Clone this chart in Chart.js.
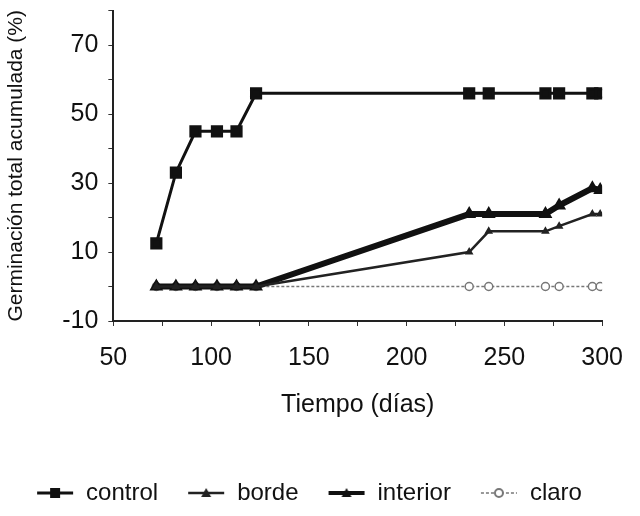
<!DOCTYPE html>
<html>
<head>
<meta charset="utf-8">
<script src="https://cdn.jsdelivr.net/npm/chart.js@4/dist/chart.umd.min.js"></script>
<style>
  html, body { margin: 0; padding: 0; background: #fff; }
</style>
</head>
<body>
<canvas id="chart" width="640" height="516"></canvas>
<script>
// days after sowing, shared by all four series
const days = [72, 82, 92, 103, 113, 123, 232, 242, 271, 278, 295, 299];
const control = [12.5, 33, 45, 45, 45, 56, 56, 56, 56, 56, 56, 56];
const borde = [0, 0, 0, 0, 0, 0, 10, 16, 16, 17.5, 21, 21];
const interior = [0, 0, 0, 0, 0, 0, 21, 21, 21, 23.5, 28.5, 28];
const claro = [0, 0, 0, 0, 0, 0, 0, 0, 0, 0, 0, 0];

const xLabels = [50, 100, 150, 200, 250, 300];
const yLabels = [-10, 10, 30, 50, 70];

const FONT = "'Liberation Sans', Arial, sans-serif";

const toPoints = (vals) => days.map((d, i) => ({ x: d, y: vals[i] }));

// little line + marker images for the legend
const makeSymbol = (color, lineWidth, marker, dash) => {
	const c = document.createElement("canvas");
	c.width = 38;
	c.height = 16;
	const ctx = c.getContext("2d");
	ctx.strokeStyle = color;
	ctx.fillStyle = color;
	ctx.lineWidth = lineWidth;
	if (dash) ctx.setLineDash(dash);
	ctx.beginPath();
	ctx.moveTo(1, 8);
	ctx.lineTo(37, 8);
	ctx.stroke();
	ctx.setLineDash([]);
	ctx.beginPath();
	if (marker === "rect") {
		ctx.fillRect(14, 3, 10, 10);
	} else if (marker === "triangle") {
		ctx.moveTo(19, 3);
		ctx.lineTo(24, 12);
		ctx.lineTo(14, 12);
		ctx.closePath();
		ctx.fill();
	} else {
		ctx.fillStyle = "#fff";
		ctx.lineWidth = 2;
		ctx.arc(19, 8, 4, 0, Math.PI * 2);
		ctx.fill();
		ctx.stroke();
	}
	return c;
};

const datasets = [
	{
		label: "control",
		data: toPoints(control),
		borderColor: "#111",
		backgroundColor: "#111",
		borderWidth: 3,
		pointStyle: "rect",
		pointRadius: 6.5,
		legendSymbol: makeSymbol("#111", 3, "rect"),
	},
	{
		label: "borde",
		data: toPoints(borde),
		borderColor: "#222",
		backgroundColor: "#222",
		borderWidth: 2.5,
		pointStyle: "triangle",
		pointRadius: 2.5,
		legendSymbol: makeSymbol("#222", 2.5, "triangle"),
	},
	{
		label: "interior",
		data: toPoints(interior),
		borderColor: "#111",
		backgroundColor: "#111",
		borderWidth: 6,
		pointStyle: "triangle",
		pointRadius: 2,
		legendSymbol: makeSymbol("#111", 4, "triangle"),
	},
	{
		label: "claro",
		data: toPoints(claro),
		borderColor: "#777",
		backgroundColor: "#fff",
		borderWidth: 1.5,
		borderDash: [3, 2],
		pointStyle: "circle",
		pointRadius: 4,
		pointBorderWidth: 1.5,
		legendSymbol: makeSymbol("#777", 1.5, "circle", [3, 2]),
	},
];

new Chart(document.getElementById("chart"), {
	type: "line",
	data: { datasets: datasets },
	options: {
		responsive: false,
		animation: false,
		layout: { padding: { left: 4, right: 26, top: 8, bottom: 6 } },
		plugins: {
			tooltip: { enabled: false },
			legend: {
				position: "bottom",
				maxHeight: 58,
				labels: {
					color: "#111",
					font: { family: FONT, size: 24 },
					usePointStyle: true,
					pointStyleWidth: 38,
					padding: 29,
					generateLabels: (chart) =>
						chart.data.datasets.map((ds, i) => ({
							text: ds.label,
							pointStyle: ds.legendSymbol,
							fontColor: "#111",
							lineWidth: 0,
							datasetIndex: i,
							hidden: false,
						})),
				},
			},
		},
		scales: {
			x: {
				type: "linear",
				min: 50,
				max: 300,
				afterBuildTicks: (scale) => {
					const t = [];
					for (let v = 50; v <= 300; v += 25) t.push({ value: v });
					scale.ticks = t;
				},
				ticks: {
					autoSkip: false,
					maxRotation: 0,
					color: "#111",
					padding: 17,
					font: { family: FONT, size: 25 },
					callback: (v) => (xLabels.includes(v) ? String(v) : ""),
				},
				grid: { drawOnChartArea: false, tickLength: 5, color: "#333" },
				border: { color: "#222", width: 2 },
				title: {
					display: true,
					text: "Tiempo (días)",
					color: "#111",
					font: { family: FONT, size: 25 },
					padding: { top: 0, bottom: 32 },
				},
			},
			y: {
				min: -10,
				max: 80,
				afterBuildTicks: (scale) => {
					const t = [];
					for (let v = -10; v <= 80; v += 10) t.push({ value: v });
					scale.ticks = t;
				},
				ticks: {
					autoSkip: false,
					color: "#111",
					padding: 10,
					// unlabelled top tick gets a tiny font so it reserves no room
					font: (c) => ({ family: FONT, size: c.tick && c.tick.value === 80 ? 1 : 25 }),
					callback: (v) => (yLabels.includes(v) ? String(v) : ""),
				},
				grid: { drawOnChartArea: false, tickLength: 5, color: "#333" },
				border: { color: "#222", width: 2 },
				title: {
					display: true,
					text: "Germinación total acumulada (%)",
					color: "#111",
					font: { family: FONT, size: 21 },
					padding: { top: 0, bottom: 23 },
				},
			},
		},
	},
});
</script>
</body>
</html>
